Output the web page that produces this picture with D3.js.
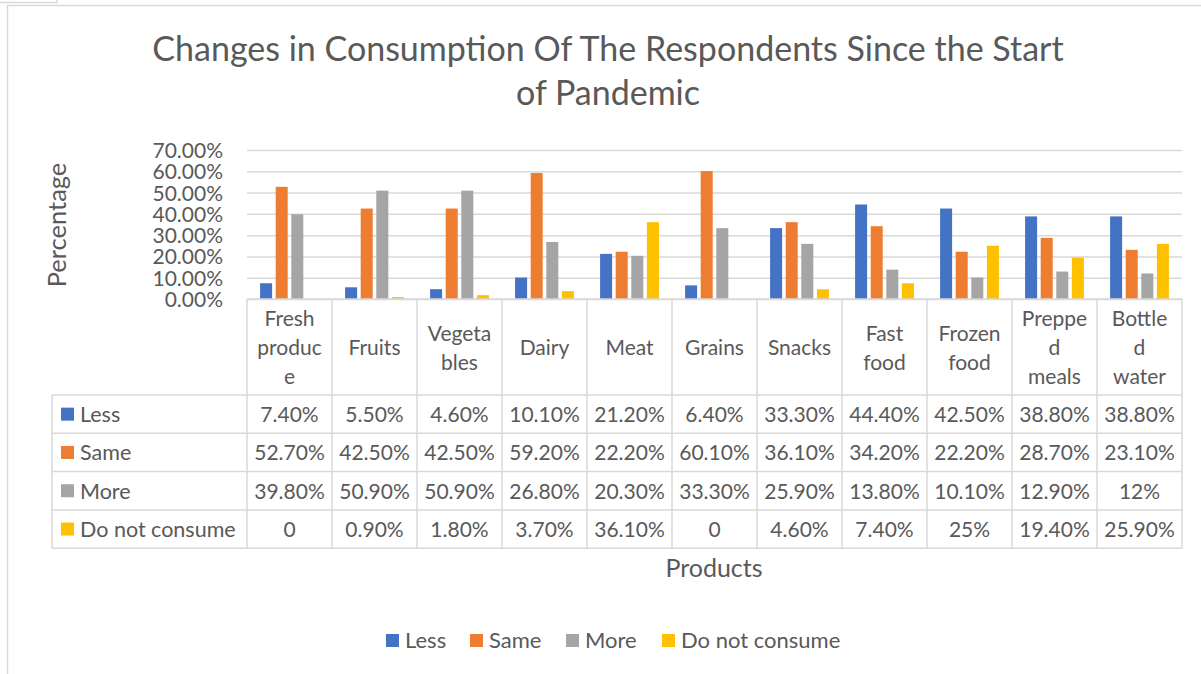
<!DOCTYPE html>
<html>
<head>
<meta charset="utf-8">
<script src="https://cdn.jsdelivr.net/npm/d3@7"></script>
<style>
  html, body { margin: 0; padding: 0; background: #fff; }
  svg { display: block; }
  text { font-family: Lato, "Open Sans", sans-serif; fill: #595959; }
</style>
</head>
<body>
<svg id="chart" width="1201" height="674"></svg>
<script>
// Product categories, with line breaks as they wrap in the table header
const categories = [
  "Fresh\nproduc\ne", "Fruits", "Vegeta\nbles", "Dairy", "Meat", "Grains",
  "Snacks", "Fast\nfood", "Frozen\nfood", "Preppe\nd\nmeals", "Bottle\nd\nwater"
];
const seriesNames = ["Less", "Same", "More", "Do not consume"];
const seriesColors = ["#4472C4", "#ED7D31", "#A5A5A5", "#FFC000"];

// Shares of respondents (percent) for each category
const less         = [7.4, 5.5, 4.6, 10.1, 21.2, 6.4, 33.3, 44.4, 42.5, 38.8, 38.8];
const same         = [52.7, 42.5, 42.5, 59.2, 22.2, 60.1, 36.1, 34.2, 22.2, 28.7, 23.1];
const more         = [39.8, 50.9, 50.9, 26.8, 20.3, 33.3, 25.9, 13.8, 10.1, 12.9, 12];
const doNotConsume = [0, 0.9, 1.8, 3.7, 36.1, 0, 4.6, 7.4, 25, 19.4, 25.9];
const seriesValues = [less, same, more, doNotConsume];

const yTicks = [0, 10, 20, 30, 40, 50, 60, 70];

const titleLines = ["Changes in Consumption Of The Respondents Since the Start", "of Pandemic"];
const yTitle = "Percentage";
const xTitle = "Products";

// ---- layout ----
const svg = d3.select("#chart");
const plotLeft = 247, plotRight = 1182, plotTop = 150, plotBottom = 299;
const headerBottom = 395, rowH = 38.3;
const tableLeft = 52;
const grid = "#d9d9d9";

// outer frame of the chart area
svg.append("rect").attr("x", 7.5).attr("y", 5.5).attr("width", 1400).attr("height", 900)
  .attr("fill", "none").attr("stroke", grid).attr("stroke-width", 1.5);
svg.append("rect").attr("x", -2).attr("y", -10).attr("width", 59).attr("height", 12.5)
  .attr("fill", "none").attr("stroke", grid).attr("stroke-width", 1.5);

// title
svg.append("g").selectAll("text").data(titleLines).join("text")
  .attr("x", 608).attr("y", (d, i) => 61 + i * 44)
  .attr("text-anchor", "middle").attr("font-size", 34).text(d => d);

// scales
const x0 = d3.scaleBand().domain(d3.range(categories.length)).range([plotLeft, plotRight]);
const x1 = d3.scaleBand().domain(d3.range(seriesNames.length))
  .range([0, x0.bandwidth()]).paddingInner(0.23).paddingOuter(0.84);
const y = d3.scaleLinear().domain([0, 70]).range([plotBottom, plotTop]);

// gridlines
const gridG = svg.append("g").attr("transform", `translate(${plotLeft},0)`)
  .call(d3.axisLeft(y).tickValues(yTicks).tickSize(-(plotRight - plotLeft)).tickFormat(""));
gridG.select(".domain").remove();
gridG.selectAll("line").attr("stroke", grid).attr("stroke-width", 1.5);

// y axis labels
const yAxisG = svg.append("g").attr("transform", `translate(${plotLeft},0)`)
  .call(d3.axisLeft(y).tickValues(yTicks).tickSize(0).tickPadding(24)
    .tickFormat(d => d3.format(".2%")(d / 100)));
yAxisG.select(".domain").remove();
yAxisG.selectAll("text").attr("font-size", 21).attr("font-family", "Lato, sans-serif")
  .attr("fill", "#595959").attr("dy", "0.36em");

// y title
svg.append("text").attr("transform", "translate(66,225) rotate(-90)")
  .attr("text-anchor", "middle").attr("font-size", 25.5).text(yTitle);

// bars
const barG = svg.append("g");
seriesValues.forEach((vals, s) => {
  barG.append("g").attr("fill", seriesColors[s])
    .selectAll("rect").data(vals).join("rect")
    .attr("x", (d, i) => x0(i) + x1(s))
    .attr("width", x1.bandwidth())
    .attr("y", d => y(d))
    .attr("height", d => plotBottom - y(d));
});

// data table
const fmt = v => v === 0 ? "0" : Number.isInteger(v) ? v + "%" : v.toFixed(2) + "%";
const tableG = svg.append("g");
const lineStyle = sel => sel.attr("stroke", grid).attr("stroke-width", 1.5).attr("fill", "none");
const tableBottom = headerBottom + rowH * seriesNames.length;

// horizontal rules
tableG.append("line").attr("x1", plotLeft).attr("x2", plotRight)
  .attr("y1", plotBottom).attr("y2", plotBottom).call(lineStyle);
d3.range(seriesNames.length + 1).forEach(r => {
  const yy = headerBottom + r * rowH;
  tableG.append("line").attr("x1", tableLeft).attr("x2", plotRight)
    .attr("y1", yy).attr("y2", yy).call(lineStyle);
});
// vertical rules
tableG.append("line").attr("x1", tableLeft).attr("x2", tableLeft)
  .attr("y1", headerBottom).attr("y2", tableBottom).call(lineStyle);
d3.range(categories.length + 1).forEach(c => {
  const xx = plotLeft + c * x0.bandwidth();
  tableG.append("line").attr("x1", xx).attr("x2", xx)
    .attr("y1", plotBottom).attr("y2", tableBottom).call(lineStyle);
});

// header labels
const headerMid = (plotBottom + headerBottom) / 2;
categories.forEach((c, i) => {
  const lines = c.split("\n");
  tableG.append("text").attr("text-anchor", "middle").attr("font-size", 21)
    .selectAll("tspan").data(lines).join("tspan")
    .attr("x", x0(i) + x0.bandwidth() / 2)
    .attr("y", (d, k) => headerMid - (lines.length - 1) * 29 / 2 + k * 29 + 8)
    .text(d => d);
});

// series rows
seriesNames.forEach((name, s) => {
  const mid = headerBottom + rowH * s + rowH / 2;
  tableG.append("rect").attr("x", 61).attr("y", mid - 6.5).attr("width", 13).attr("height", 13)
    .attr("fill", seriesColors[s]);
  tableG.append("text").attr("x", 80).attr("y", mid + 8).attr("font-size", 21.5).text(name);
  tableG.selectAll(null).data(seriesValues[s]).join("text")
    .attr("x", (d, i) => x0(i) + x0.bandwidth() / 2)
    .attr("y", mid + 8).attr("text-anchor", "middle").attr("font-size", 21)
    .text(d => fmt(d));
});

// x title
svg.append("text").attr("x", 714).attr("y", 577).attr("text-anchor", "middle")
  .attr("font-size", 25).text(xTitle);

// legend
const legendX = [386, 470, 566, 662];
const legendG = svg.append("g");
seriesNames.forEach((name, s) => {
  legendG.append("rect").attr("x", legendX[s]).attr("y", 634).attr("width", 13).attr("height", 13)
    .attr("fill", seriesColors[s]);
  legendG.append("text").attr("x", legendX[s] + 19).attr("y", 648).attr("font-size", 22).text(name);
});
</script>
</body>
</html>
